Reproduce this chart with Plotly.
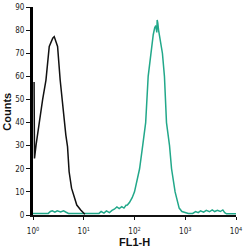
import plotly.graph_objects as go

# Black (control) histogram
black_x = [1.05, 1.07, 1.15, 1.23, 1.33, 1.55, 1.80, 2.09, 2.25, 2.45, 2.62, 2.82, 3.05,
           3.43, 3.72, 4.11, 4.44, 4.79, 5.15, 5.75, 6.46, 7.29, 8.71, 10.5]
black_y = [57.5, 24.5, 30.3, 36, 40, 50, 58.4, 72.9, 75, 76.5, 77.2, 75, 72.9,
           58.4, 49.8, 40, 34.6, 29.6, 18.7, 11.6, 7.9, 4.3, 2.2, 0.3]

# Green (stained) histogram
green_x = [1.0, 1.5, 2.0, 2.2, 2.4, 2.7, 3.0, 3.5, 4.0, 4.5, 5.0, 6.0, 8.0, 12, 16, 20, 22,
           25, 28, 32, 36, 40, 45, 50, 56, 62, 68, 72.4, 80, 90, 100, 113, 126, 145, 166,
           186, 214, 234, 250, 263, 275, 280, 288, 298, 309, 331, 355, 389, 427, 490, 537,
           631, 700, 759, 860, 1000, 1150, 1400, 1600, 1800, 2000, 2300, 2600, 3000, 3400,
           3800, 4300, 4900, 5500, 6000, 6500, 8000, 10000]
green_y = [0.7, 0.7, 0.7, 1.5, 1.8, 1.2, 1.8, 1.3, 1.8, 1.2, 0.7, 0.7, 0.7, 0.7, 0.7, 0.7, 1.5,
           0.8, 1.8, 1.0, 2.0, 2.5, 3.5, 2.8, 3.6, 3.0, 4.2, 4.3, 5.5, 7.5, 10, 15, 20, 30, 40,
           60, 72, 78, 81, 82, 79, 84.4, 83, 80, 78, 73, 70, 60, 40, 30, 20,
           10, 5.5, 3, 1.5, 1.0, 0.7, 0.7, 1.5, 1.0, 1.8, 1.2, 2.0, 1.4, 2.2, 1.5, 2.0,
           1.5, 2.2, 1.0, 0.5, 0.5, 0.5]

y_ticks = [0, 10, 20, 30, 40, 50, 60, 70, 80, 90]
x_ticks = [1, 10, 100, 1000, 10000]
x_labels = ["10<sup>0</sup>", "10<sup>1</sup>", "10<sup>2</sup>", "10<sup>3</sup>", "10<sup>4</sup>"]

tick_font = dict(family="DejaVu Sans Condensed, Liberation Sans Narrow, Liberation Sans", size=8, color="#222")
title_font = dict(family="Liberation Sans, Arial", size=11, color="#111")

fig = go.Figure()
fig.add_trace(go.Scatter(x=green_x, y=green_y, mode="lines",
                         line=dict(color="#22a88a", width=1.5), showlegend=False))
fig.add_trace(go.Scatter(x=black_x, y=black_y, mode="lines",
                         line=dict(color="#111111", width=1.5), showlegend=False))

fig.update_layout(
    width=244, height=250,
    margin=dict(l=33, r=8, t=7, b=35),
    paper_bgcolor="white", plot_bgcolor="white",
    xaxis=dict(type="log", range=[0, 4], tickvals=x_ticks, ticktext=x_labels,
               showgrid=False, zeroline=False, showline=True, linecolor="#111", linewidth=1.5,
               ticks="outside", ticklen=3, tickcolor="#111", tickfont=tick_font,
               ticklabelstandoff=5, automargin=False),
    yaxis=dict(range=[0, 90], tickvals=y_ticks, showgrid=False, zeroline=False,
               showline=True, linecolor="#000", linewidth=3,
               ticks="outside", ticklen=4, tickcolor="#111", tickfont=tick_font,
               ticklabelstandoff=0, automargin=False),
    annotations=[
        dict(text="<b>FL1-H</b>", xref="paper", yref="paper", x=0.5, y=-0.13,
             xanchor="center", yanchor="middle", showarrow=False, font=title_font),
        dict(text="<b>Counts</b>", xref="paper", yref="paper", x=-0.13, y=0.495,
             xanchor="center", yanchor="middle", textangle=-90, showarrow=False, font=title_font),
    ],
)

fig.write_html("out.html")
